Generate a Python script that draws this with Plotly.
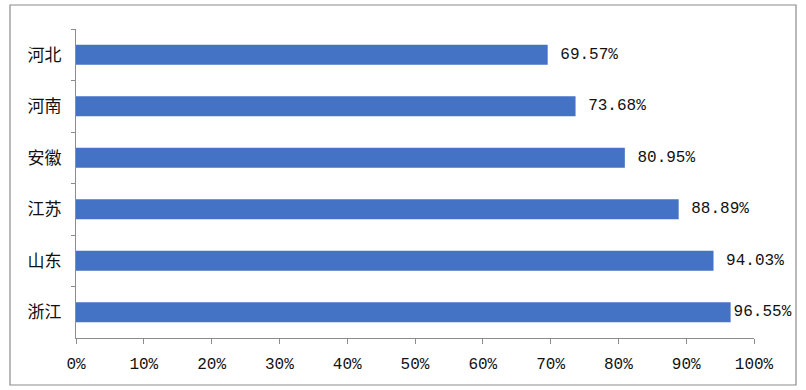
import plotly.graph_objects as go

provinces = ["河北", "河南", "安徽", "江苏", "山东", "浙江"]
rates = [69.57, 73.68, 80.95, 88.89, 94.03, 96.55]
x_ticks = list(range(0, 101, 10))
x_tick_labels = [f"{t}%" for t in x_ticks]

labels = [(" " if v < 95 else "") + f"{v:.2f}%" for v in rates]

W, H = 806, 390
L, R, T, B = 76, 754, 29, 338

fig = go.Figure(go.Bar(
    x=rates, y=provinces, orientation="h",
    marker=dict(color="#4472C4", line=dict(width=0)),
    text=labels, textposition="outside", cliponaxis=False,
    constraintext="none",
    textfont=dict(family="Liberation Mono, Noto Sans CJK SC", size=16, color="#111"),
    width=0.39,
))

def px2paper_x(p):
    return (p - L) / (R - L)

def px2paper_y(p):
    return (B - p) / (B - T)

fig.add_shape(type="rect", xref="paper", yref="paper",
              x0=px2paper_x(10), x1=px2paper_x(796),
              y0=px2paper_y(385), y1=px2paper_y(5),
              line=dict(color="#8c8c8c", width=1.2), layer="below")

fig.update_layout(
    width=W, height=H,
    margin=dict(l=L, r=W - R, t=T, b=H - B, autoexpand=False),
    paper_bgcolor="white", plot_bgcolor="white",
    showlegend=False,
    xaxis=dict(range=[0, 100], tickvals=x_ticks, ticktext=x_tick_labels,
               showgrid=False, zeroline=False,
               showline=True, linecolor="#8c8c8c", linewidth=1,
               ticks="outside", ticklen=5, tickcolor="#8c8c8c",
               ticklabelstandoff=6,
               tickfont=dict(family="Liberation Mono, Noto Sans CJK SC", size=16, color="#111")),
    yaxis=dict(autorange="reversed", showgrid=False, zeroline=False,
               showline=True, linecolor="#8c8c8c", linewidth=1,
               ticks="outside", ticklen=4, tickcolor="#8c8c8c",
               tickson="boundaries", ticklabelstandoff=10,
               tickfont=dict(family="Noto Sans CJK SC", size=17, color="#111")),
)

fig.write_html("out.html", config={"displayModeBar": False},
               post_script="document.body.style.margin='0';document.body.style.overflow='hidden';")
